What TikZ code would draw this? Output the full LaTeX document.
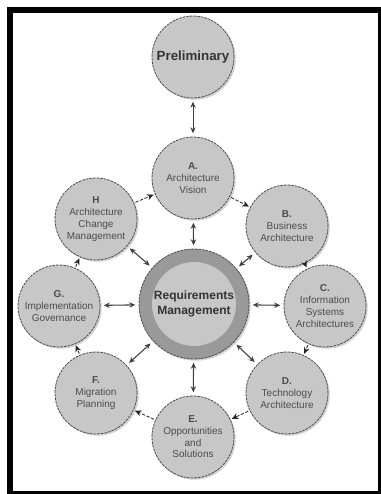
\documentclass[tikz,border=0pt]{standalone}
\usepackage{fontspec}
\setmainfont{Liberation Sans}
\usetikzlibrary{arrows.meta,shadows}

\begin{document}
\begin{tikzpicture}[x=0.75pt,y=0.75pt,yscale=-1,xscale=1,
  phase/.style={circle,draw=black!70,dash pattern={on 2pt off 0.7pt},line width=0.6pt,fill=black!22,
    minimum size=61.5pt,inner sep=0pt,align=center,text=black!70,
    font=\fontsize{7.5}{8.8}\selectfont,
    drop shadow={shadow xshift=1.3pt,shadow yshift=-1.3pt,opacity=0.35}},
  both/.style={{Stealth[length=4.5pt,width=4pt]}-{Stealth[length=4.5pt,width=4pt]},line width=0.8pt,draw=black!75,shorten <=2.5pt,shorten >=2.5pt},
  nextphase/.style={-{Stealth[length=5pt,width=4.5pt]},line width=0.6pt,draw=black!85,dash pattern={on 2.5pt off 1.2pt},shorten <=1pt,shorten >=1pt}]
  \useasboundingbox (0,0) rectangle (381,494);
  \fill[white] (0,0) rectangle (381,494);
  \draw[line width=4.5pt] (10,9.5) rectangle (381,494);

  \node[phase,font=\fontsize{10}{12}\selectfont\bfseries,text=black!80] (prelim) at (193,57) {Preliminary};
  \node[phase] (a) at (193,178) {\textbf{A.}\\Architecture\\Vision};
  \node[phase] (b) at (287,226) {\textbf{B.}\\Business\\Architecture};
  \node[phase] (c) at (325,306) {\textbf{C.}\\Information\\Systems\\Architectures};
  \node[phase] (d) at (287,393) {\textbf{D.}\\Technology\\Architecture};
  \node[phase] (e) at (193,437) {\textbf{E.}\\Opportunities\\and\\Solutions};
  \node[phase] (f) at (96,393) {\textbf{F.}\\Migration\\Planning};
  \node[phase] (g) at (59,306) {\textbf{G.}\\Implementation\\Governance};
  \node[phase] (h) at (96,219) {\textbf{H}\\Architecture\\Change\\Management};

  \node[circle,draw=black!70,dash pattern={on 2pt off 0.7pt},line width=0.6pt,fill=black!40,minimum size=82.5pt,
    drop shadow={shadow xshift=1.3pt,shadow yshift=-1.3pt,opacity=0.35}] (req) at (194,304) {};
  \node[circle,fill=black!22,minimum size=62pt,inner sep=0pt,align=center,text=black!80,
    font=\fontsize{9}{11}\selectfont\bfseries] (reqtext) at (req.center) {Requirements\\Management};

  \draw[both,line width=0.6pt] (prelim) -- (a);
  \draw[both] (req) -- (a);
  \draw[both] (req) -- (b);
  \draw[both] (req) -- (c);
  \draw[both] (req) -- (d);
  \draw[both] (req) -- (e);
  \draw[both] (req) -- (f);
  \draw[both] (req) -- (g);
  \draw[both] (req) -- (h);

  \draw[nextphase] (a) -- (b);
  \draw[nextphase] (b) -- (c);
  \draw[nextphase] (c) -- (d);
  \draw[nextphase] (d) -- (e);
  \draw[nextphase] (e) -- (f);
  \draw[nextphase] (f) -- (g);
  \draw[nextphase] (g) -- (h);
  \draw[nextphase] (h) -- (a);
\end{tikzpicture}
\end{document}
